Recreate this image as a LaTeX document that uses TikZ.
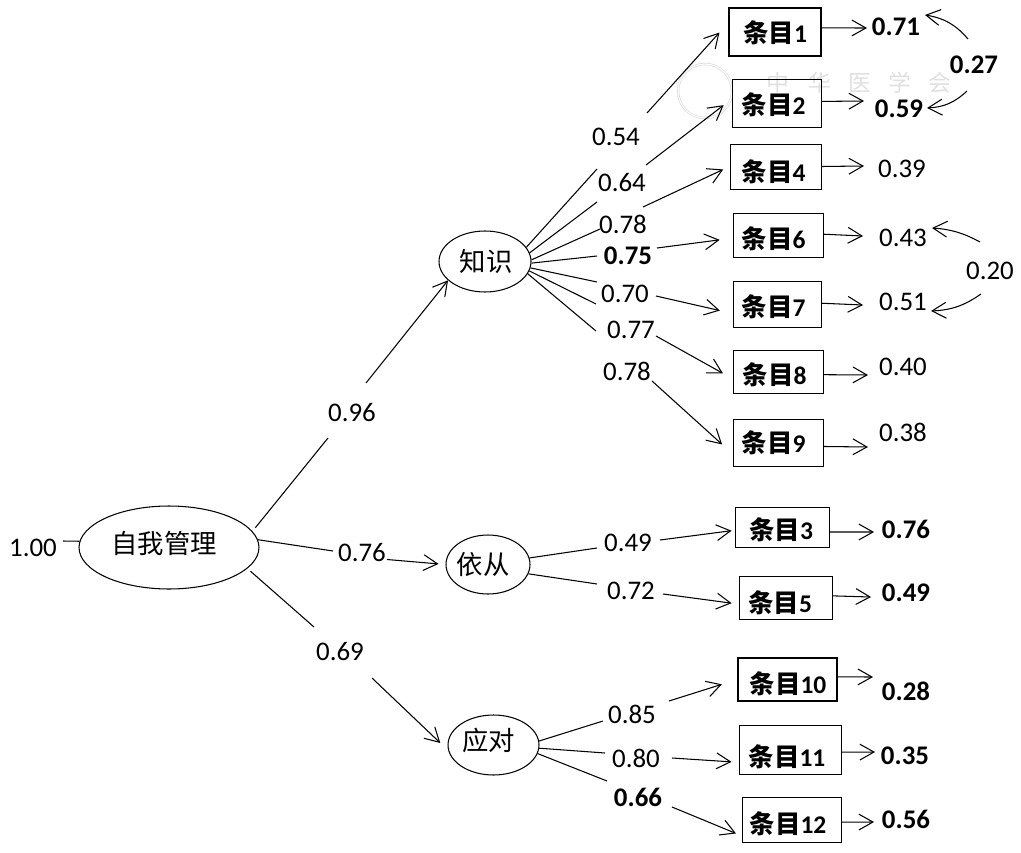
\documentclass[tikz,border=0pt]{standalone}
\usepackage{fontspec}
\setmainfont{Carlito}
\newfontfamily\cjk{Noto Sans CJK SC}
\usetikzlibrary{arrows.meta,shapes.geometric}
\newlength\pxu
\setlength\pxu{0.02cm}
% text moved by dx, dy pixels from the middle of its node
\newcommand{\mv}[3]{\makebox[0pt][c]{\hspace*{#1\pxu}\hspace*{#1\pxu}\raisebox{\dimexpr-#2\pxu-5.5pt}[0pt][0pt]{#3}}}
\newcommand{\tiao}[3]{\mv{#2}{#3}{{\cjk\bfseries 条目}\textbf{#1}}}
\tikzset{
  itembox/.style={draw, line width=0.55pt, inner sep=0pt, font=\fontsize{14.5}{16}\selectfont},
  latent/.style={draw, ellipse, line width=0.6pt, inner sep=0pt, font=\fontsize{15}{16}\cjk},
  coef/.style={inner sep=0pt, font=\fontsize{15.3}{17}\selectfont},
  coefb/.style={inner sep=0pt, font=\fontsize{15.3}{17}\selectfont\bfseries},
  arr/.style={-{Straight Barb[length=8pt,width=9pt]}, line width=0.6pt},
  seg/.style={line width=0.6pt},
  gap/.style={shorten >=#1*0.02cm},
  wmark/.style={inner sep=0pt, text=black!12, font=\fontsize{13}{14}\cjk}
}
\begin{document}
\begin{tikzpicture}[x=0.02cm, y=-0.02cm]
    \useasboundingbox (0,0) rectangle (1021,852);

    % watermark
    \node[draw=black!14, circle, double, line width=0.4pt, minimum size=1.08cm] (seal) at (705,91) {};
    \foreach \i/\x/\c in {1/778/中, 2/820/华, 3/860/医, 4/900/学, 5/940/会}
      \node[wmark] (wm\i) at (\x,83) {\c};

    % latent variables
    \node[latent, minimum width=3.6cm, minimum height=1.66cm] (zw) at (169,547.5) {\mv{-5}{-4}{自我管理}};
    \node[latent, minimum width=1.84cm, minimum height=1.22cm] (zhishi) at (485,261.5) {\mv{1}{0}{知识}};
    \node[latent, minimum width=1.68cm, minimum height=1.18cm] (yicong) at (488,564.5) {\mv{-5}{0}{依从}};
    \node[latent, minimum width=1.82cm, minimum height=1.2cm] (yingdui) at (493.5,745) {\mv{-5}{-4}{应对}};

    % items
    \node[itembox, line width=1pt, minimum width=1.84cm, minimum height=0.96cm] (b1) at (775,32) {\tiao{1}{0}{0.5}};
    \node[itembox, minimum width=1.78cm, minimum height=0.96cm] (b2) at (776.5,103) {\tiao{2}{-3}{2}};
    \node[itembox, minimum width=1.82cm, minimum height=0.9cm] (b4) at (775.5,166.5) {\tiao{4}{-2}{5.5}};
    \node[itembox, minimum width=1.8cm, minimum height=0.88cm] (b6) at (778,235) {\tiao{6}{-4.5}{4}};
    \node[itembox, minimum width=1.76cm, minimum height=0.92cm] (b7) at (777,304) {\tiao{7}{-3.5}{3}};
    \node[itembox, minimum width=1.8cm, minimum height=0.86cm] (b8) at (778,371.5) {\tiao{8}{-3.5}{3.5}};
    \node[itembox, minimum width=1.8cm, minimum height=0.94cm] (b9) at (778,442.5) {\tiao{9}{-4.5}{0.5}};
    \node[itembox, minimum width=1.88cm, minimum height=0.8cm] (b3) at (782,527) {\tiao{3}{-1}{3}};
    \node[itembox, minimum width=1.86cm, minimum height=0.86cm] (b5) at (785.5,597.5) {\tiao{5}{-5.5}{5}};
    \node[itembox, line width=1pt, minimum width=1.98cm, minimum height=0.86cm] (b10) at (787.5,679.5) {\tiao{10}{0.5}{4}};
    \node[itembox, minimum width=2.04cm, minimum height=0.98cm] (b11) at (790,749.5) {\tiao{11}{-3}{7.5}};
    \node[itembox, minimum width=1.98cm, minimum height=0.9cm] (b12) at (791.5,819.5) {\tiao{12}{-3.5}{4}};

    % loadings
    \node[coef] (p100) at (33,548) {1.00};
    \node[coef] (p96) at (352,413) {0.96};
    \node[coef] (p76) at (362,553) {0.76};
    \node[coef] (p69) at (340,652) {0.69};
    \node[coef] (p54) at (616,137) {0.54};
    \node[coef] (p64) at (622,183) {0.64};
    \node[coef] (p78a) at (623,224) {0.78};
    \node[coefb] (p75) at (628,256) {0.75};
    \node[coef] (p70) at (625,294) {0.70};
    \node[coef] (p77) at (631,330) {0.77};
    \node[coef] (p78b) at (627,371) {0.78};
    \node[coef] (p49) at (628,543) {0.49};
    \node[coef] (p72) at (631,591) {0.72};
    \node[coef] (p85) at (632,714) {0.85};
    \node[coef] (p80) at (636,758) {0.80};
    \node[coefb] (p66) at (638,797) {0.66};

    % residuals
    \node[coefb] (e1) at (896,27) {0.71};
    \node[coefb] (e2) at (899,109) {0.59};
    \node[coef] (e4) at (902,169) {0.39};
    \node[coef] (e6) at (903,238) {0.43};
    \node[coef] (e7) at (903,302) {0.51};
    \node[coef] (e8) at (903,367) {0.40};
    \node[coef] (e9) at (903,432) {0.38};
    \node[coefb] (e3) at (906,529) {0.76};
    \node[coefb] (e5) at (906,593) {0.49};
    \node[coefb] (e10) at (906,691) {0.28};
    \node[coefb] (e11) at (905,756) {0.35};
    \node[coefb] (e12) at (906,819) {0.56};
    \node[coefb] (c27) at (974,65) {0.27};
    \node[coef] (c20) at (990,271) {0.20};

    % break points beside the labels
    \coordinate (a100) at (63,541);
    \coordinate (a96) at (328,438);  \coordinate (z96) at (366,383);
    \coordinate (a76) at (333,551);  \coordinate (z76) at (387,559.5);
    \coordinate (a69) at (314,627);  \coordinate (z69) at (372,678);
    \coordinate (a54) at (597,169);  \coordinate (z54) at (647,113);
    \coordinate (a64) at (597,202);  \coordinate (z64) at (646,165);
    \coordinate (a78a) at (600,229); \coordinate (z78a) at (643,207);
    \coordinate (a75) at (597,256);  \coordinate (z75) at (657,248);
    \coordinate (a70) at (597,282);  \coordinate (z70) at (656,296);
    \coordinate (a77) at (596,304);  \coordinate (z77) at (656,336);
    \coordinate (a78b) at (596,331); \coordinate (z78b) at (652,381);
    \coordinate (a49) at (597,548);  \coordinate (z49) at (660,540);
    \coordinate (a72) at (597,584);  \coordinate (z72) at (663,594);
    \coordinate (a85) at (603,721);  \coordinate (z85) at (669,701);
    \coordinate (a80) at (605,753);  \coordinate (z80) at (672,758);
    \coordinate (a66) at (607,781);  \coordinate (z66) at (672,807);

    \draw[seg] (a100) -- (zw.176);

    \draw[seg, shorten <=0.09cm] (zw.11) -- (a96);
    \draw[arr] (z96) -- (zhishi.207);
    \draw[seg] (zw.5) -- (a76);
    \draw[arr, gap=7] (z76) -- (yicong.west);
    \draw[seg, shorten <=0.08cm] (zw.-15) -- (a69);
    \draw[arr, gap=11] (z69) -- (yingdui.187);

    \draw[seg] (zhishi.19) -- (a54);
    \draw[arr, gap=13] (z54) -- (b1.169);
    \draw[seg] (zhishi.11) -- (a64);
    \draw[arr, gap=10] (z64) -- (b2.175);
    \draw[seg] (zhishi.2) -- (a78a);
    \draw[arr, gap=7] (z78a) -- (b4.west);
    \draw[seg] (zhishi.-2) -- (a75);
    \draw[arr, gap=13] (z75) -- (b6.184);
    \draw[seg] (zhishi.-8) -- (a70);
    \draw[arr, gap=13] (z70) -- (b7.192);
    \draw[seg] (zhishi.-12) -- (a77);
    \draw[arr, gap=11] (z77) -- (b8.189);
    \draw[seg] (zhishi.-16) -- (a78b);
    \draw[arr, gap=14] (z78b) -- (b9.194);

    \draw[seg] (yicong.9) -- (a49);
    \draw[arr, gap=3] (z49) -- (b3.184);
    \draw[seg] (yicong.-13) -- (a72);
    \draw[arr, gap=7] (z72) -- (b5.188);

    \draw[seg] (yingdui.5) -- (a85);
    \draw[arr, gap=16] (z85) -- (b10.west);
    \draw[seg] (yingdui.-4) -- (a80);
    \draw[arr, gap=7] (z80) -- (b11.194);
    \draw[seg] (yingdui.-11) -- (a66);
    \draw[arr, gap=6] (z66) -- (b12.198);

    % item to residual
    \foreach \n/\ang/\tx/\ty in {1/5/867/28, 2/2.5/864/101, 4/0/864/166, 6/1/863/236, 7/1/863/305, 8/-4.4/868/375, 9/-5.7/868/447, 3/-6/874/532, 5/2/871/597, 10/3/873/677, 11/-3/875/752, 12/-3/874/822} {
      \coordinate (t\n) at (\tx,\ty);
      \draw[arr] (b\n.\ang) -- (t\n);
    }

    % correlated residuals
    \coordinate (k1) at (968,39);  \coordinate (k2) at (925,15);
    \coordinate (k3) at (967,91);  \coordinate (k4) at (927,108);
    \coordinate (k5) at (980,242); \coordinate (k6) at (932,228);
    \coordinate (k7) at (981,294); \coordinate (k8) at (931,311);
    \draw[arr] (k1) to[bend right=20] (k2);
    \draw[arr] (k3) to[bend left=20] (k4);
    \draw[arr] (k5) to[bend right=12] (k6);
    \draw[arr] (k7) to[bend left=16] (k8);
\end{tikzpicture}
\end{document}
